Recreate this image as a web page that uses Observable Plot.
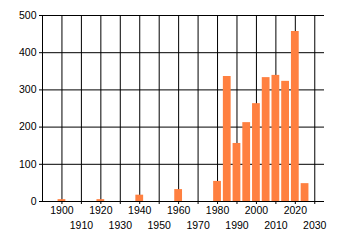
<!DOCTYPE html>
<html><head>
<meta charset="utf-8">
<script src="https://cdn.jsdelivr.net/npm/d3@7"></script>
<script src="https://cdn.jsdelivr.net/npm/@observablehq/plot@0.6"></script>
<style>body{margin:0;background:#fff}</style>
</head><body><div id="chart"></div>
<script>
const years = [1900, 1920, 1940, 1960, 1980, 1985, 1990, 1995, 2000, 2005, 2010, 2015, 2020, 2025];
const counts = [5, 5, 17, 32, 54, 336, 156, 212, 263, 333, 339, 323, 457, 48];
const xDomain = [1890, 2035];
const yDomain = [0, 500];
const yTicks = [0, 100, 200, 300, 400, 500];
const decadeTicks = [1900, 1910, 1920, 1930, 1940, 1950, 1960, 1970, 1980, 1990, 2000, 2010, 2020, 2030];
const labelRow1 = [1900, 1920, 1940, 1960, 1980, 2000, 2020];
const labelRow2 = [1910, 1930, 1950, 1970, 1990, 2010, 2030];
const barWidth = 4;

const data = years.map((y, i) => ({year: y, count: counts[i]}));

const chart = Plot.plot({
  width: 340,
  height: 245,
  marginLeft: 42,
  marginTop: 15,
  marginRight: 16,
  marginBottom: 44,
  style: {fontFamily: "Liberation Sans, Arial, sans-serif", fontSize: "10.5px", color: "#000", background: "#fff"},
  x: {domain: xDomain, axis: null},
  y: {domain: yDomain, axis: null},
  marks: [
    Plot.gridX(decadeTicks, {stroke: "#000", strokeOpacity: 1}),
    Plot.gridY(yTicks.slice(1), {stroke: "#000", strokeOpacity: 1}),
    Plot.rectY(data, {x1: d => d.year - barWidth / 2, x2: d => d.year + barWidth / 2, y: "count", fill: "#ff8040"}),
    Plot.ruleX(xDomain.slice(0, 1), {stroke: "#000"}),
    Plot.ruleY(yDomain.slice(0, 1), {stroke: "#000"}),
    Plot.axisY(yTicks, {tickSize: 3, tickPadding: 3, label: null, tickFormat: d => String(d), stroke: "#000"}),
    Plot.axisX(decadeTicks, {tickSize: 3, label: null, tickFormat: () => "", stroke: "#000"}),
    Plot.axisX(labelRow1, {tickSize: 0, tickPadding: 5, label: null, tickFormat: d => String(d)}),
    Plot.axisX(labelRow2, {tickSize: 0, tickPadding: 20, label: null, tickFormat: d => String(d)})
  ]
});
document.getElementById("chart").appendChild(chart);
</script>
</body></html>
